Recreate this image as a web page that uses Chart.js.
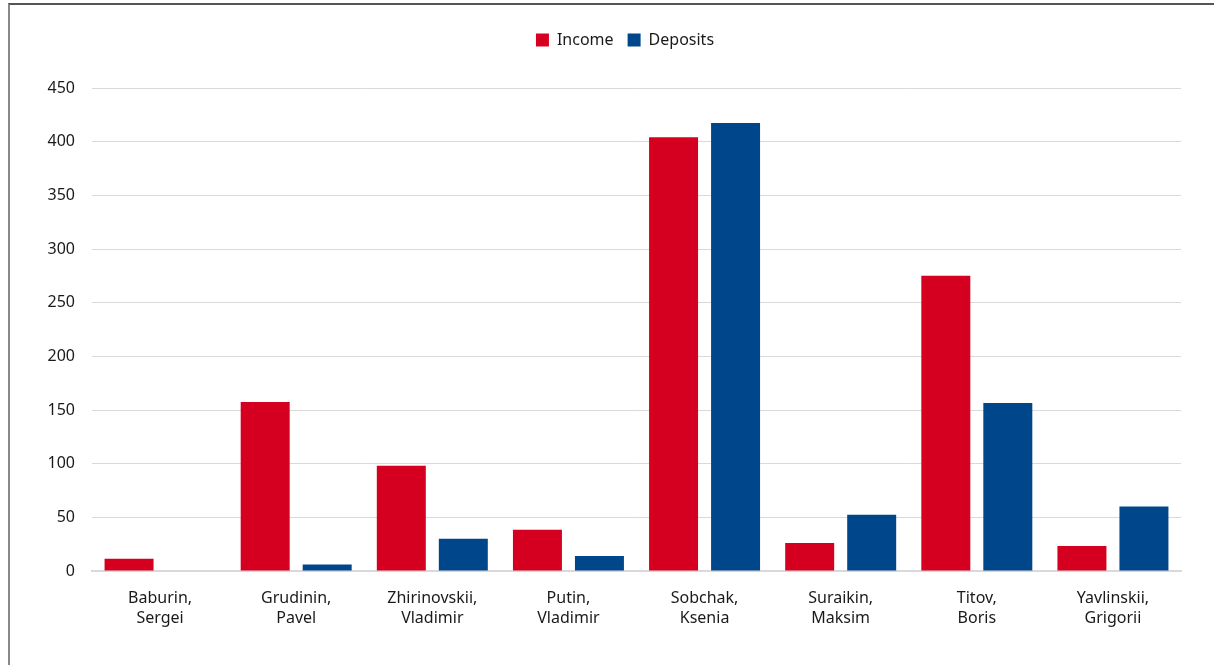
<!DOCTYPE html>
<html>
<head>
<meta charset="utf-8">
<script src="https://cdn.jsdelivr.net/npm/chart.js@4"></script>
<style>
  html, body { margin: 0; padding: 0; background: #fff; }
  #frame {
    position: absolute; left: 8px; top: 3px; width: 1206px; height: 662px;
    border-top: 2px solid #555; border-left: 2px solid #888; box-sizing: border-box;
  }
  #wrap { position: absolute; left: 0; top: 0; width: 1214px; height: 665px; }
</style>
</head>
<body>
<div id="frame"></div>
<div id="wrap"><canvas id="myChart"></canvas></div>
<script>
// candidates (two-line labels)
const candidates = [
    ['Baburin,', 'Sergei'],
    ['Grudinin,', 'Pavel'],
    ['Zhirinovskii,', 'Vladimir'],
    ['Putin,', 'Vladimir'],
    ['Sobchak,', 'Ksenia'],
    ['Suraikin,', 'Maksim'],
    ['Titov,', 'Boris'],
    ['Yavlinskii,', 'Grigorii']
];
const income = [11.5, 157.5, 98, 38.5, 404, 26, 275, 23.3];
const deposits = [0, 6, 30, 14, 417.5, 52.5, 156.5, 60];
const yMax = 450;
const yStep = 50;

const fontFam = "'Noto Sans', 'Open Sans', sans-serif";
const textColor = '#1a1a1a';

// espaço extra sob a legenda e deslocamento para a direita
const legendTweak = {
    id: 'legendTweak',
    beforeInit(chart) {
        const fit = chart.legend.fit;
        chart.legend.fit = function () {
            fit.call(this);
            this.height += 30;
        };
    },
    afterLayout(chart) {
        chart.legend.left += 30;
        chart.legend.right += 30;
    }
};

const ctx = document.getElementById('myChart');
new Chart(ctx, {
    type: 'bar',
    data: {
        labels: candidates,
        datasets: [
            { label: 'Income', data: income, backgroundColor: '#d50020', borderWidth: 0 },
            { label: 'Deposits', data: deposits, backgroundColor: '#00468b', borderWidth: 0 }
        ]
    },
    options: {
        responsive: true,
        maintainAspectRatio: false,
        animation: false,
        categoryPercentage: 0.911,
        barPercentage: 0.79,
        layout: { padding: { left: 9, right: 33, top: 18, bottom: 20 } },
        plugins: {
            legend: {
                position: 'top',
                labels: {
                    boxWidth: 13,
                    boxHeight: 13,
                    padding: 14,
                    color: textColor,
                    font: { family: fontFam, size: 16 }
                }
            },
            tooltip: { enabled: false }
        },
        scales: {
            x: {
                grid: { display: false },
                border: { color: '#d9d9d9', width: 2 },
                ticks: {
                    color: textColor,
                    font: { family: fontFam, size: 16, lineHeight: 1.25 },
                    padding: 9,
                    maxRotation: 0
                },
                afterFit: function (scale) { scale.height = 74; }
            },
            y: {
                min: 0,
                max: yMax,
                ticks: {
                    stepSize: yStep,
                    color: textColor,
                    font: { family: fontFam, size: 16 },
                    padding: 17
                },
                grid: { color: '#d9d9d9', drawTicks: false },
                border: { display: false },
                afterFit: function (scale) { scale.width = 83; }
            }
        }
    },
    plugins: [legendTweak]
});
</script>
</body>
</html>
